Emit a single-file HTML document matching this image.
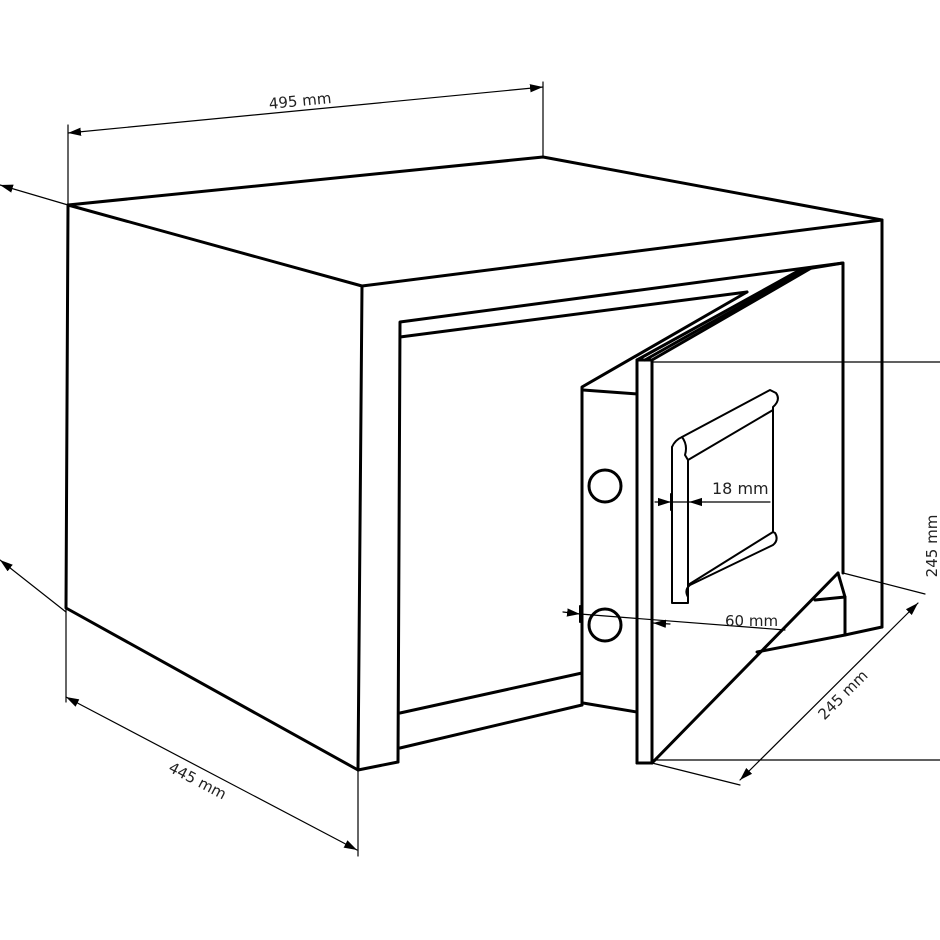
<!DOCTYPE html>
<html><head><meta charset="utf-8"><style>
html,body{margin:0;padding:0;background:#fff;}
svg{display:block;}
text{font-family:"DejaVu Sans","Liberation Sans",sans-serif;fill:#222;}
</style></head><body>
<svg width="940" height="940" viewBox="0 0 940 940" xmlns="http://www.w3.org/2000/svg">
<defs>
<marker id="a" viewBox="0 0 10 10" refX="10" refY="5" markerWidth="13" markerHeight="13" orient="auto-start-reverse" markerUnits="userSpaceOnUse"><path d="M0,1.8 L10,5 L0,8.2 z" fill="#000"/></marker>
</defs>
<g fill="none" stroke="#000" stroke-linejoin="round" stroke-linecap="round">
<g stroke-width="3">
<polyline points="68,205 543,157 882,220"/>
<polyline points="68,205 362,286 882,220"/>
<polyline points="68,205 66,608 358,770 362,286"/>
<line x1="882" y1="220" x2="882" y2="627"/>
<line x1="358" y1="770" x2="398" y2="762"/>
<polyline points="398,762 400,322 843,263 843,573"/>
<line x1="400" y1="337" x2="747" y2="292"/>
<line x1="400" y1="713" x2="582" y2="673"/>
<line x1="400" y1="748" x2="582" y2="705"/>
<polyline points="582,705 582,387 747,292"/>
<line x1="583" y1="390" x2="637" y2="394"/>
<line x1="583" y1="703" x2="637" y2="712"/>
<polyline points="637,763 637,360 800,270"/>
<line x1="652" y1="360" x2="652" y2="763"/>
<line x1="637" y1="763" x2="652" y2="763"/>
<line x1="637" y1="360" x2="652" y2="360"/>
<line x1="645" y1="360" x2="808" y2="268"/>
<line x1="652" y1="360" x2="813" y2="267"/>
<line x1="800" y1="270" x2="843" y2="263"/>
<line x1="652" y1="763" x2="838" y2="573"/>
<polyline points="838,573 845,597 845,635 882,627"/>
<line x1="815" y1="600" x2="845" y2="597"/>
<line x1="757" y1="652" x2="845" y2="635"/>
<circle cx="605" cy="486" r="16"/>
<circle cx="605" cy="625" r="16"/>
</g>
<g stroke-width="2">
<path d="M672,447 L672,603 L688,603 L688,597 Q684,590 690,585 L773,545 Q779,540 775,533 L773,532 L773,407 Q781,400 776,393 L770,390 L682,437 Q688,445 685,455 L688,460 L688,597"/>
<path d="M672,447 Q675,440 682,437"/>
<line x1="688" y1="460" x2="773" y2="410"/>
<line x1="688" y1="585" x2="773" y2="532"/>
</g>
<g stroke-width="1.2">
<line x1="68" y1="205" x2="68" y2="125"/>
<line x1="543" y1="157" x2="543" y2="82"/>
<line x1="68" y1="133" x2="543" y2="87" marker-start="url(#a)" marker-end="url(#a)"/>
<line x1="66" y1="608" x2="66" y2="702"/>
<line x1="358" y1="770" x2="358" y2="856"/>
<line x1="66" y1="697" x2="357" y2="850" marker-start="url(#a)" marker-end="url(#a)"/>
<line x1="68" y1="205" x2="0" y2="185" marker-end="url(#a)"/>
<line x1="66" y1="612" x2="0" y2="560" marker-end="url(#a)"/>
<line x1="652" y1="362" x2="940" y2="362"/>
<line x1="652" y1="760" x2="940" y2="760"/>
<line x1="843" y1="573" x2="925" y2="594"/>
<line x1="652" y1="763" x2="740" y2="785"/>
<line x1="740" y1="780" x2="918" y2="603" marker-start="url(#a)" marker-end="url(#a)"/>
<line x1="563" y1="612" x2="580" y2="614" marker-end="url(#a)"/>
<line x1="580" y1="614" x2="785" y2="630"/>
<line x1="670" y1="624" x2="653" y2="623" marker-end="url(#a)"/>
<line x1="580" y1="606" x2="580" y2="622" stroke-width="2"/>
<line x1="652" y1="614" x2="652" y2="630" stroke-width="2"/>
<line x1="655" y1="502" x2="671" y2="502" marker-end="url(#a)"/>
<line x1="671" y1="502" x2="688" y2="502"/>
<line x1="705" y1="502" x2="689" y2="502" marker-end="url(#a)"/>
<line x1="705" y1="502" x2="770" y2="502"/>
<line x1="671" y1="494" x2="671" y2="510" stroke-width="2"/>
<line x1="688" y1="494" x2="688" y2="510" stroke-width="2"/>
</g>
</g>
<g font-size="15">
<text x="300" y="106" text-anchor="middle" transform="rotate(-5.5 300 100)">495 mm</text>
<text x="198" y="786" text-anchor="middle" transform="rotate(27.5 198 780)">445 mm</text>
<text x="712" y="494" font-size="16">18 mm</text>
<text x="725" y="626">60 mm</text>
<text x="843" y="700" text-anchor="middle" transform="rotate(-45 843 695)">245 mm</text>
<text x="937" y="546" text-anchor="middle" transform="rotate(-90 937 546)">245 mm</text>
</g>
</svg>
</body></html>
